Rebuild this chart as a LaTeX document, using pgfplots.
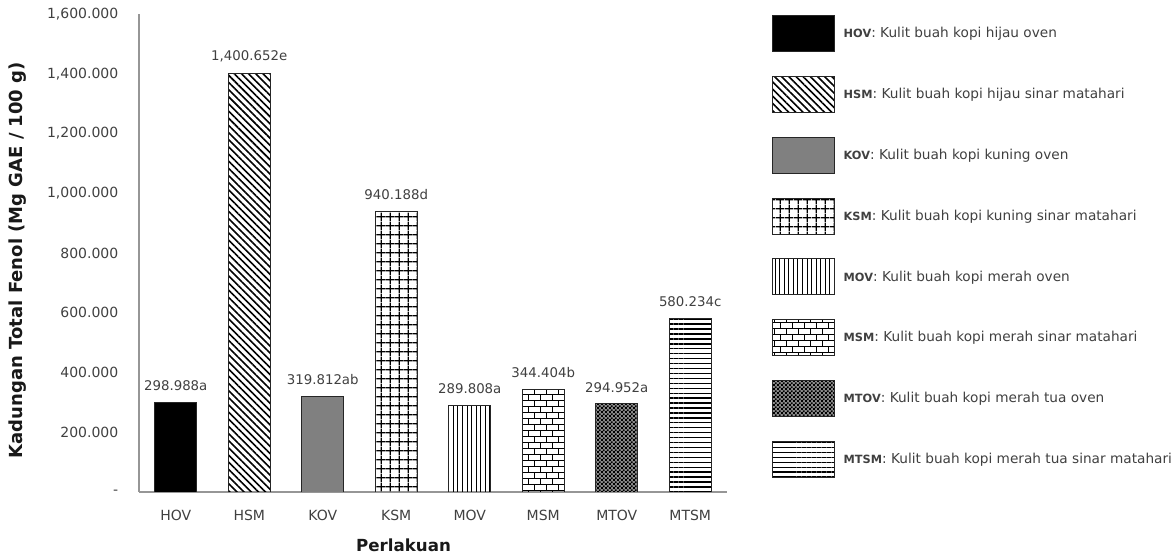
\documentclass[border=0pt]{standalone}
\usepackage{fontspec}
\setmainfont{DejaVu Sans}
\usepackage{pgfplots}
\pgfplotsset{compat=1.18}
\usetikzlibrary{patterns,patterns.meta}

\pgfdeclarepatternformonly{mybricks}{\pgfpoint{-1pt}{-1pt}}{\pgfpoint{10pt}{10pt}}{\pgfpoint{9pt}{9pt}}{
 \pgfsetlinewidth{0.6pt}
 \pgfpathmoveto{\pgfpoint{0pt}{0pt}}\pgfpathlineto{\pgfpoint{9pt}{0pt}}
 \pgfpathmoveto{\pgfpoint{0pt}{4.5pt}}\pgfpathlineto{\pgfpoint{9pt}{4.5pt}}
 \pgfpathmoveto{\pgfpoint{0pt}{0pt}}\pgfpathlineto{\pgfpoint{0pt}{4.5pt}}
 \pgfpathmoveto{\pgfpoint{4.5pt}{4.5pt}}\pgfpathlineto{\pgfpoint{4.5pt}{9pt}}
 \pgfusepath{stroke}}

\pgfdeclarepatternformonly{mychecker}{\pgfpointorigin}{\pgfpoint{2.8pt}{2.8pt}}{\pgfpoint{2.8pt}{2.8pt}}{
 \pgfpathrectangle{\pgfpointorigin}{\pgfpoint{1.4pt}{1.4pt}}
 \pgfpathrectangle{\pgfpoint{1.4pt}{1.4pt}}{\pgfpoint{1.4pt}{1.4pt}}
 \pgfusepath{fill}}

\definecolor{kovgray}{RGB}{128,128,128}
\definecolor{axgray}{RGB}{150,150,150}
\definecolor{txt}{RGB}{64,64,64}

\pgfplotsset{legbox/.style={legend image code/.code={\draw[##1] (0pt,-13.5pt) rectangle (46pt,13.5pt);}}}

\newcommand{\legtxt}[2]{{\fontsize{8.5}{10}\selectfont\bfseries #1}: #2}

\begin{document}
\begin{tikzpicture}
\path[use as bounding box] (-104.25pt,-48pt) rectangle (777pt,369pt);
\begin{axis}[
 at={(0,0)}, anchor=south west,
 scale only axis, width=441pt, height=358.5pt,
 xmin=-0.5, xmax=7.5, ymin=0, ymax=1600,
 ybar, bar width=31.5pt, bar shift=0pt,
 axis x line*=bottom, axis y line*=left,
 axis line style={draw=axgray, line width=0.8pt, -},
 xtick={0,...,7},
 xticklabels={HOV,HSM,KOV,KSM,MOV,MSM,MTOV,MTSM},
 ytick={0,200,...,1600},
 yticklabels={-\hspace{8pt},200.000,400.000,600.000,800.000,{1,000.000},{1,200.000},{1,400.000},{1,600.000}},
 major tick length=0pt,
 tick label style={font=\fontsize{10.5}{12}\selectfont, text=txt},
 xticklabel style={yshift=-10pt},
 yticklabel style={xshift=-12pt},
 ylabel={\textbf{Kadungan Total Fenol (Mg GAE / 100 g)}},
 ylabel style={font=\fontsize{13.5}{15}\selectfont, text=black!90, at={(axis description cs:-0.206,0.485)}, anchor=center},
 xlabel={\textbf{Perlakuan}},
 xlabel style={font=\fontsize{12.5}{14}\selectfont, text=black!90, at={(axis description cs:0.45,-0.111)}, anchor=center},
 nodes near coords style={font=\fontsize{10}{12}\selectfont, text=txt, yshift=5pt},
 legend style={at={(1.0765,0.998)}, anchor=north west, draw=none, fill=none,
   font=\fontsize{10.25}{12}\selectfont, text=txt, row sep=18pt, inner sep=0pt,
   /tikz/every odd column/.append style={column sep=5pt}},
 legend cell align=left,
]
\addplot[draw=black!85, line width=0.6pt, fill=black, nodes near coords={298.988a}, legbox] coordinates {(0,298.988)};
\addlegendentry{\legtxt{HOV}{Kulit buah kopi hijau oven}}
\addplot[draw=black!85, line width=0.6pt, pattern={Lines[angle=-45, distance=3.8pt, line width=1.2pt]}, nodes near coords={1,400.652e}, legbox] coordinates {(1,1400.652)};
\addlegendentry{\legtxt{HSM}{Kulit buah kopi hijau sinar matahari}}
\addplot[draw=black!85, line width=0.6pt, fill=kovgray, nodes near coords={319.812ab}, legbox] coordinates {(2,319.812)};
\addlegendentry{\legtxt{KOV}{Kulit buah kopi kuning oven}}
\addplot[draw=black!85, line width=0.6pt, pattern={Hatch[angle=0, distance=6.5pt, line width=0.9pt]}, nodes near coords={940.188d}, legbox] coordinates {(3,940.188)};
\addlegendentry{\legtxt{KSM}{Kulit buah kopi kuning sinar matahari}}
\addplot[draw=black!85, line width=0.6pt, pattern={Lines[angle=90, distance=3.4pt, line width=0.6pt]}, nodes near coords={289.808a}, legbox] coordinates {(4,289.808)};
\addlegendentry{\legtxt{MOV}{Kulit buah kopi merah oven}}
\addplot[draw=black!85, line width=0.6pt, pattern=mybricks, nodes near coords={344.404b}, legbox] coordinates {(5,344.404)};
\addlegendentry{\legtxt{MSM}{Kulit buah kopi merah sinar matahari}}
\addplot[draw=black!85, line width=0.6pt, preaction={fill=black!45}, pattern=mychecker, nodes near coords={294.952a}, legbox] coordinates {(6,294.952)};
\addlegendentry{\legtxt{MTOV}{Kulit buah kopi merah tua oven}}
\addplot[draw=black!85, line width=0.6pt, pattern={Lines[angle=0, distance=3.7pt, line width=1pt]}, nodes near coords={580.234c}, legbox] coordinates {(7,580.234)};
\addlegendentry{\legtxt{MTSM}{Kulit buah kopi merah tua sinar matahari}}
\end{axis}
\end{tikzpicture}
\end{document}
